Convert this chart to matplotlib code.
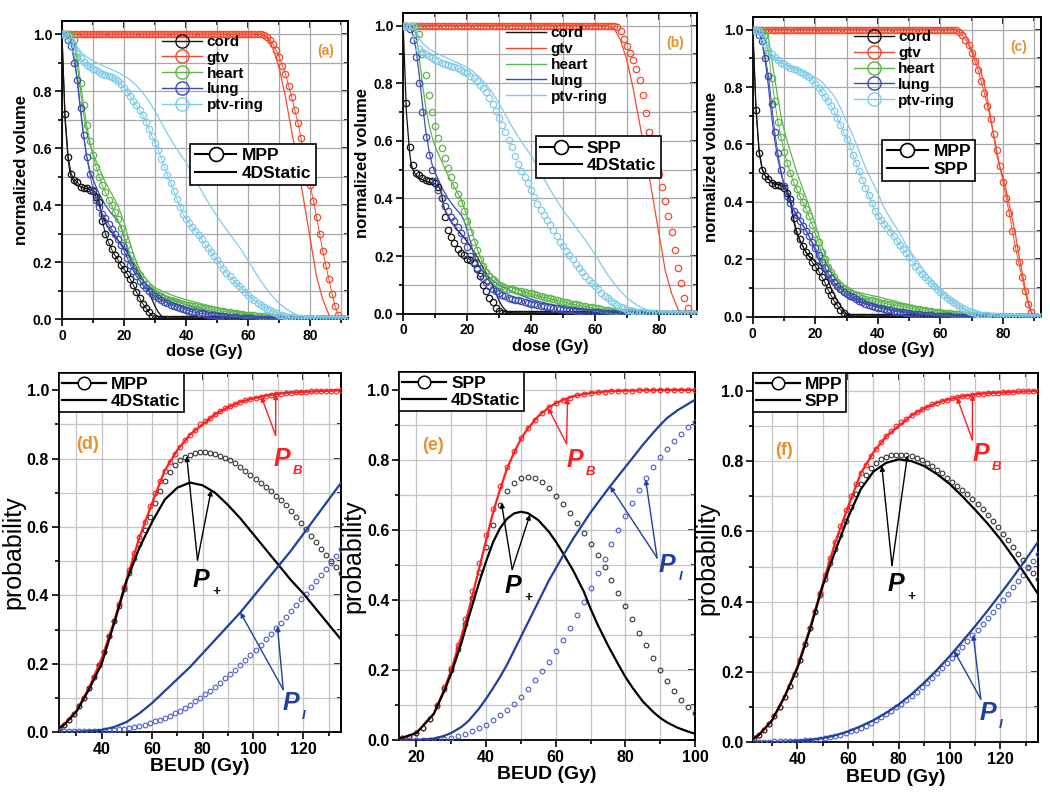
import numpy as np
import matplotlib
matplotlib.use("Agg")
import matplotlib.pyplot as plt
from matplotlib.lines import Line2D
from matplotlib.ticker import MultipleLocator

plt.rcParams["font.family"] = ["Liberation Sans", "DejaVu Sans"]
plt.rcParams["font.weight"] = "bold"
plt.rcParams["axes.labelweight"] = "bold"
plt.rcParams["axes.linewidth"] = 1.3

# ---------------- top row: dose-volume histograms ----------------
DOSE = np.arange(0, 93)          # 1 Gy grid for the marker series
STRUCTS = ["cord", "gtv", "heart", "lung", "ptv-ring"]

MPP_CORD = [1.0, 0.72, 0.57, 0.51, 0.49, 0.48, 0.465, 0.46, 0.46, 0.455, 0.45, 0.43, 0.41,
            0.345, 0.30, 0.27, 0.245, 0.225, 0.21, 0.19, 0.175, 0.16, 0.14, 0.12, 0.095,
            0.075, 0.055, 0.04, 0.025, 0.012, 0.004] + [0.0] * 62
MPP_GTV = [1.0] * 65 + [0.998, 0.99, 0.98, 0.965, 0.945, 0.92, 0.89, 0.86, 0.82, 0.78, 0.735,
                        0.69, 0.635, 0.58, 0.525, 0.47, 0.415, 0.36, 0.30, 0.24, 0.19, 0.14,
                        0.09, 0.045, 0.015, 0.0, 0.0, 0.0]
MPP_HEART = [1.0, 1.0, 1.0, 1.0, 0.98, 0.92, 0.83, 0.75, 0.68, 0.625, 0.575, 0.535, 0.5, 0.47,
             0.445, 0.42, 0.4, 0.375, 0.35, 0.32, 0.29, 0.26, 0.225, 0.2, 0.175, 0.155, 0.138,
             0.122, 0.11, 0.1, 0.092, 0.085, 0.08, 0.075, 0.071, 0.067, 0.063, 0.06, 0.057,
             0.054, 0.051, 0.049, 0.047, 0.045, 0.043, 0.041, 0.039, 0.037, 0.035, 0.033,
             0.031, 0.029, 0.027, 0.026, 0.024, 0.022, 0.021, 0.019, 0.018, 0.016, 0.015,
             0.014, 0.013, 0.012, 0.011, 0.01, 0.009, 0.008, 0.007, 0.006, 0.006, 0.005,
             0.004, 0.004, 0.003, 0.003, 0.002, 0.002, 0.001, 0.001, 0.001] + [0.0] * 12
MPP_LUNG = [1.0, 1.0, 0.98, 0.96, 0.9, 0.84, 0.74, 0.645, 0.57, 0.51, 0.455, 0.42, 0.395, 0.37,
            0.355, 0.335, 0.315, 0.3, 0.28, 0.26, 0.24, 0.215, 0.19, 0.17, 0.15, 0.135, 0.12,
            0.108, 0.098, 0.088, 0.08, 0.074, 0.068, 0.062, 0.056, 0.051, 0.046, 0.042, 0.038,
            0.035, 0.032, 0.029, 0.026, 0.024, 0.022, 0.02, 0.018, 0.016, 0.015, 0.013, 0.012,
            0.011, 0.01, 0.009, 0.008, 0.007, 0.006, 0.005, 0.004, 0.004, 0.003, 0.003, 0.002,
            0.002, 0.001, 0.001] + [0.0] * 27
MPP_PTV = [1.0, 1.0, 0.995, 0.975, 0.95, 0.93, 0.915, 0.903, 0.893, 0.885, 0.879, 0.873, 0.867,
           0.862, 0.858, 0.854, 0.849, 0.843, 0.836, 0.826, 0.812, 0.798, 0.783, 0.767, 0.75,
           0.735, 0.716, 0.692, 0.668, 0.643, 0.619, 0.593, 0.563, 0.535, 0.507, 0.478, 0.45,
           0.423, 0.395, 0.37, 0.35, 0.337, 0.323, 0.309, 0.294, 0.28, 0.265, 0.25, 0.236,
           0.221, 0.207, 0.192, 0.177, 0.162, 0.15, 0.138, 0.128, 0.118, 0.107, 0.096, 0.085,
           0.075, 0.066, 0.058, 0.051, 0.044, 0.037, 0.031, 0.026, 0.021, 0.016, 0.013, 0.01,
           0.008, 0.006, 0.005, 0.004, 0.003, 0.002, 0.001, 0.001] + [0.0] * 12

SPP_CORD = [1.0, 0.73, 0.58, 0.515, 0.49, 0.48, 0.47, 0.465, 0.46, 0.46, 0.455, 0.44, 0.40,
            0.335, 0.29, 0.265, 0.245, 0.225, 0.21, 0.205, 0.19, 0.185, 0.175, 0.155, 0.13,
            0.10, 0.08, 0.055, 0.04, 0.02, 0.01, 0.003] + [0.0] * 61
SPP_GTV = [1.0] * 66 + [1.0, 0.995, 0.98, 0.955, 0.93, 0.905, 0.88, 0.85, 0.81, 0.76, 0.695,
                        0.63, 0.565, 0.52, 0.485, 0.44, 0.39, 0.34, 0.285, 0.22, 0.16, 0.105,
                        0.055, 0.018, 0.0, 0.0, 0.0]
SPP_HEART = [1.0, 1.0, 1.0, 1.0, 1.0, 0.97, 0.9, 0.83, 0.76, 0.7, 0.65, 0.61, 0.575, 0.54,
             0.505, 0.475, 0.445, 0.415, 0.385, 0.355, 0.32, 0.285, 0.25, 0.22, 0.19, 0.165,
             0.145, 0.13, 0.12, 0.11, 0.1, 0.095, 0.09, 0.087, 0.084, 0.082, 0.079, 0.077,
             0.074, 0.072, 0.07, 0.067, 0.064, 0.061, 0.059, 0.056, 0.053, 0.05, 0.047, 0.045,
             0.042, 0.04, 0.037, 0.035, 0.032, 0.03, 0.028, 0.026, 0.024, 0.022, 0.02, 0.018,
             0.016, 0.014, 0.012, 0.01, 0.009, 0.008, 0.007, 0.006, 0.005, 0.004, 0.004,
             0.003, 0.003, 0.002, 0.002, 0.001, 0.001, 0.001] + [0.0] * 13
SPP_LUNG = [1.0, 1.0, 0.99, 0.95, 0.89, 0.8, 0.7, 0.615, 0.55, 0.5, 0.46, 0.43, 0.4, 0.375,
            0.355, 0.337, 0.32, 0.3, 0.28, 0.255, 0.23, 0.2, 0.178, 0.158, 0.14, 0.125, 0.11,
            0.097, 0.086, 0.077, 0.07, 0.065, 0.06, 0.056, 0.052, 0.049, 0.046, 0.043, 0.04,
            0.037, 0.035, 0.032, 0.03, 0.028, 0.026, 0.024, 0.022, 0.02, 0.018, 0.016, 0.015,
            0.014, 0.012, 0.011, 0.01, 0.009, 0.008, 0.007, 0.006, 0.005, 0.004, 0.004, 0.003,
            0.002, 0.002, 0.001, 0.001] + [0.0] * 26
SPP_PTV = [1.0, 1.0, 1.0, 1.0, 0.96, 0.92, 0.908, 0.9, 0.893, 0.887, 0.88, 0.876, 0.872, 0.868,
           0.864, 0.86, 0.857, 0.852, 0.846, 0.84, 0.834, 0.826, 0.818, 0.808, 0.795, 0.782,
           0.768, 0.75, 0.728, 0.703, 0.678, 0.655, 0.63, 0.604, 0.577, 0.548, 0.52, 0.497,
           0.474, 0.452, 0.43, 0.405, 0.38, 0.36, 0.342, 0.325, 0.308, 0.29, 0.27, 0.25, 0.235,
           0.218, 0.203, 0.188, 0.172, 0.157, 0.144, 0.13, 0.118, 0.106, 0.095, 0.084, 0.073,
           0.062, 0.053, 0.044, 0.036, 0.029, 0.023, 0.018, 0.014, 0.011, 0.009, 0.007, 0.005,
           0.004, 0.003, 0.002, 0.001, 0.001] + [0.0] * 13

# 4DStatic plan, drawn as plain lines only
ST_CORD_D = [0, 0.5, 1, 2, 2.5, 3, 4, 5, 7, 9, 10, 11, 12, 12.5, 13, 14, 15, 17, 19, 20, 21,
             22, 23, 24, 25, 26, 27, 28, 29, 30, 31, 32, 33, 34, 35, 92]
ST_CORD = [1.0, 0.85, 0.7, 0.56, 0.52, 0.5, 0.48, 0.47, 0.46, 0.455, 0.45, 0.445, 0.42, 0.38,
           0.36, 0.34, 0.32, 0.29, 0.265, 0.25, 0.235, 0.215, 0.2, 0.18, 0.16, 0.14, 0.12,
           0.1, 0.07, 0.045, 0.025, 0.012, 0.006, 0.002, 0.0, 0.0]
ST_GTV_D = [0, 64, 66, 68, 70, 72, 74, 76, 78, 80, 82, 84, 86, 87, 92]
ST_GTV = [1.0, 1.0, 0.99, 0.95, 0.88, 0.78, 0.66, 0.54, 0.41, 0.28, 0.15, 0.07, 0.015, 0.0, 0.0]
ST_HEART_D = [0, 3, 4, 5, 6, 7, 8, 9, 10, 12, 14, 16, 18, 19, 20, 21, 22, 23, 24, 25, 26, 28,
              30, 33, 36, 40, 45, 50, 55, 60, 65, 70, 75, 80, 92]
ST_HEART = [1.0, 1.0, 0.97, 0.89, 0.8, 0.72, 0.66, 0.615, 0.58, 0.53, 0.48, 0.44, 0.4, 0.37,
            0.34, 0.3, 0.265, 0.23, 0.2, 0.175, 0.155, 0.13, 0.11, 0.095, 0.082, 0.068, 0.054,
            0.04, 0.028, 0.018, 0.011, 0.006, 0.003, 0.001, 0.0]
ST_LUNG_D = [0, 2, 3, 4, 5, 6, 7, 8, 9, 10, 12, 14, 16, 18, 19, 20, 21, 22, 23, 24, 26, 28, 30,
             35, 40, 45, 50, 55, 60, 65, 70, 75, 92]
ST_LUNG = [1.0, 1.0, 0.97, 0.92, 0.83, 0.73, 0.64, 0.57, 0.52, 0.49, 0.44, 0.4, 0.37, 0.345,
           0.325, 0.29, 0.25, 0.21, 0.18, 0.16, 0.135, 0.115, 0.1, 0.072, 0.05, 0.035, 0.024,
           0.015, 0.009, 0.005, 0.002, 0.001, 0.0]
ST_PTV_D = [0, 3, 4, 5, 6, 8, 10, 12, 14, 16, 18, 20, 22, 24, 26, 28, 30, 32, 34, 36, 38, 40,
            42, 44, 46, 48, 50, 52, 54, 56, 58, 60, 62, 64, 66, 68, 70, 72, 74, 76, 78, 80, 82, 92]
ST_PTV = [1.0, 1.0, 0.98, 0.955, 0.94, 0.92, 0.907, 0.896, 0.886, 0.876, 0.866, 0.855, 0.84,
          0.82, 0.795, 0.765, 0.73, 0.69, 0.65, 0.615, 0.58, 0.55, 0.51, 0.47, 0.43, 0.395,
          0.36, 0.33, 0.3, 0.27, 0.24, 0.205, 0.17, 0.135, 0.105, 0.078, 0.055, 0.038, 0.024,
          0.014, 0.007, 0.003, 0.0, 0.0]

# ---------------- bottom row: probabilities vs BEUD ----------------
BEUD_MPP = np.arange(23, 136, 2)
MPP_PB = [0.012, 0.022, 0.035, 0.052, 0.075, 0.1, 0.13, 0.16, 0.195,
          0.235, 0.28, 0.325, 0.375, 0.425, 0.475, 0.525, 0.57, 0.615, 0.66,
          0.7, 0.735, 0.765, 0.79, 0.815, 0.835, 0.855, 0.87, 0.885, 0.9,
          0.91, 0.92, 0.93, 0.94, 0.948, 0.955, 0.961, 0.966, 0.971, 0.975,
          0.978, 0.981, 0.984, 0.986, 0.988, 0.99, 0.991, 0.993, 0.994, 0.995,
          0.996, 0.997, 0.997, 0.998, 0.998, 0.999, 0.999, 1.0]
MPP_PP = [0.012, 0.022, 0.035, 0.052, 0.075, 0.1, 0.13, 0.16, 0.195,
          0.235, 0.28, 0.325, 0.37, 0.42, 0.465, 0.51, 0.55, 0.59, 0.63,
          0.67, 0.705, 0.735, 0.76, 0.78, 0.795, 0.805, 0.812, 0.816, 0.818,
          0.818, 0.817, 0.814, 0.809, 0.803, 0.795, 0.786, 0.776, 0.765, 0.753,
          0.741, 0.729, 0.717, 0.705, 0.692, 0.678, 0.663, 0.647, 0.63, 0.612,
          0.594, 0.575, 0.556, 0.537, 0.518, 0.5, 0.482, 0.465]
MPP_PI = [0.002, 0.002, 0.002, 0.002, 0.003, 0.003, 0.003, 0.004, 0.004,
          0.005, 0.006, 0.007, 0.008, 0.01, 0.012, 0.015, 0.018, 0.022, 0.026,
          0.031, 0.036, 0.042, 0.048, 0.055, 0.063, 0.071, 0.08, 0.09, 0.1,
          0.11, 0.121, 0.132, 0.144, 0.157, 0.17, 0.183, 0.197, 0.211, 0.226,
          0.241, 0.256, 0.272, 0.288, 0.304, 0.32, 0.337, 0.354, 0.371, 0.388,
          0.405, 0.423, 0.441, 0.459, 0.477, 0.496, 0.515, 0.535]

BEUD_D = [23, 25, 30, 35, 40, 45, 50, 55, 60, 65, 70, 75, 80, 85, 90, 95, 100, 105, 110, 115,
          120, 125, 130, 135]
ST_D_PB = [0.012, 0.022, 0.062, 0.13, 0.215, 0.325, 0.45, 0.57, 0.67, 0.765, 0.825, 0.87, 0.9,
           0.93, 0.95, 0.966, 0.976, 0.984, 0.99, 0.993, 0.995, 0.997, 0.998, 1.0]
ST_D_PP = [0.012, 0.02, 0.06, 0.125, 0.2, 0.32, 0.445, 0.54, 0.615, 0.68, 0.715, 0.73, 0.722,
           0.7, 0.665, 0.625, 0.58, 0.535, 0.49, 0.445, 0.405, 0.36, 0.315, 0.27]
ST_D_PI = [0.0, 0.0, 0.001, 0.003, 0.006, 0.015, 0.03, 0.055, 0.085, 0.12, 0.155, 0.19, 0.23,
           0.27, 0.31, 0.35, 0.395, 0.44, 0.485, 0.53, 0.58, 0.63, 0.68, 0.73]

BEUD_SPP_E = np.arange(16, 101, 2)
SPP_E_PB = [0.005, 0.01, 0.02, 0.035, 0.06, 0.1, 0.15, 0.205, 0.27, 0.345,
            0.425, 0.505, 0.585, 0.66, 0.725, 0.78, 0.825, 0.862, 0.892, 0.915,
            0.935, 0.95, 0.962, 0.971, 0.978, 0.984, 0.988, 0.991, 0.993, 0.995,
            0.996, 0.997, 0.998, 0.998, 0.999, 0.999, 0.999, 1.0, 1.0, 1.0,
            1.0, 1.0, 1.0]
SPP_E_PP = [0.005, 0.01, 0.02, 0.035, 0.06, 0.098, 0.145, 0.2, 0.26, 0.33,
            0.405, 0.48, 0.55, 0.615, 0.67, 0.71, 0.735, 0.748, 0.752, 0.748,
            0.737, 0.72, 0.698, 0.674, 0.648, 0.62, 0.59, 0.56, 0.528, 0.494,
            0.458, 0.42, 0.383, 0.345, 0.307, 0.27, 0.234, 0.2, 0.168, 0.14,
            0.115, 0.095, 0.078]
SPP_E_PI = [0.0, 0.0, 0.0, 0.0, 0.001, 0.002, 0.004, 0.007, 0.012, 0.018,
            0.025, 0.034, 0.044, 0.056, 0.07, 0.086, 0.104, 0.124, 0.146, 0.17,
            0.196, 0.224, 0.254, 0.286, 0.32, 0.356, 0.394, 0.434, 0.476, 0.518,
            0.56, 0.6, 0.64, 0.678, 0.714, 0.748, 0.779, 0.807, 0.832, 0.855,
            0.875, 0.893, 0.909]

BEUD_E = [15, 20, 25, 28, 30, 33, 35, 38, 40, 42, 44, 46, 48, 50, 52, 55, 58, 60, 62, 65, 68,
          70, 72, 75, 78, 80, 82, 85, 88, 90, 92, 95, 98, 100]
ST_E_PB = [0.003, 0.02, 0.075, 0.145, 0.2, 0.3, 0.37, 0.49, 0.57, 0.65, 0.715, 0.775, 0.82,
           0.86, 0.89, 0.925, 0.95, 0.962, 0.971, 0.982, 0.988, 0.991, 0.993, 0.996, 0.997,
           0.998, 0.998, 0.999, 0.999, 1.0, 1.0, 1.0, 1.0, 1.0]
ST_E_PP = [0.003, 0.02, 0.075, 0.14, 0.19, 0.28, 0.35, 0.45, 0.51, 0.565, 0.605, 0.632, 0.647,
           0.652, 0.648, 0.628, 0.595, 0.567, 0.535, 0.484, 0.425, 0.375, 0.33, 0.27, 0.215,
           0.18, 0.15, 0.11, 0.08, 0.063, 0.05, 0.035, 0.024, 0.018]
ST_E_PI = [0.0, 0.0, 0.004, 0.012, 0.02, 0.038, 0.055, 0.09, 0.118, 0.148, 0.18, 0.215, 0.255,
           0.295, 0.335, 0.395, 0.455, 0.49, 0.525, 0.575, 0.62, 0.65, 0.677, 0.717, 0.755,
           0.78, 0.805, 0.843, 0.878, 0.9, 0.92, 0.942, 0.96, 0.972]

SPP_F_PB = [0.012, 0.022, 0.062, 0.13, 0.215, 0.325, 0.45, 0.57, 0.67, 0.765, 0.825, 0.87,
            0.9, 0.93, 0.95, 0.966, 0.976, 0.984, 0.99, 0.993, 0.995, 0.997, 0.998, 1.0]
SPP_F_PP = [0.012, 0.022, 0.062, 0.13, 0.21, 0.32, 0.445, 0.545, 0.64, 0.72, 0.77, 0.795,
            0.805, 0.8, 0.786, 0.763, 0.735, 0.7, 0.662, 0.622, 0.578, 0.528, 0.476, 0.42]
SPP_F_PI = [0.0, 0.0, 0.001, 0.002, 0.004, 0.007, 0.012, 0.02, 0.031, 0.046, 0.063, 0.084,
            0.108, 0.137, 0.17, 0.206, 0.245, 0.287, 0.33, 0.375, 0.422, 0.47, 0.52, 0.572]

# ---------------- styling ----------------
DVH_COL = {"cord": "#111111", "gtv": "#f24a2c", "heart": "#5db64a",
           "lung": "#3c4cb4", "ptv-ring": "#80cce8"}
RED, BLACK, BLUE, BLUE_MK = "#ff1f1f", "#000000", "#20409e", "#4a5ccc"
ORANGE = "#e8902a"
GRID = "#a8a8a8"


def frame(ax, xmaj, xmin, ymaj, ymin, lsize):
    ax.xaxis.set_major_locator(MultipleLocator(xmaj))
    ax.xaxis.set_minor_locator(MultipleLocator(xmin))
    ax.yaxis.set_major_locator(MultipleLocator(ymaj))
    ax.yaxis.set_minor_locator(MultipleLocator(ymin))
    ax.yaxis.set_major_formatter(lambda v, p: f"{v:.1f}")
    ax.grid(which="both", color=GRID, lw=0.9)
    ax.set_axisbelow(True)
    ax.tick_params(which="both", direction="out", width=1.2, labelsize=lsize, pad=2)
    ax.tick_params(which="major", length=5)
    ax.tick_params(which="minor", length=3)
    top = ax.secondary_xaxis("top")
    right = ax.secondary_yaxis("right")
    top.xaxis.set_major_locator(MultipleLocator(xmaj))
    top.xaxis.set_minor_locator(MultipleLocator(xmin))
    right.yaxis.set_major_locator(MultipleLocator(ymaj))
    right.yaxis.set_minor_locator(MultipleLocator(ymin))
    top.tick_params(which="both", direction="in", width=1.2, labeltop=False)
    right.tick_params(which="both", direction="in", width=1.2, labelright=False)
    for s in (top, right):
        s.tick_params(which="major", length=5)
        s.tick_params(which="minor", length=3)


def dvh_panel(ax, mk, mk_joined, lines, names, tag):
    for s in STRUCTS:
        ax.plot(lines[s][0], lines[s][1], color=DVH_COL[s], lw=0.9, zorder=3)
    for s in STRUCTS:
        ax.plot(DOSE, mk[s], color=DVH_COL[s], lw=0.7 if mk_joined else 0,
                marker="o", ms=4.6, mfc="none", mew=0.9, zorder=4)
    ax.set_xlim(0, 92)
    ax.set_ylim(0, 1.045)
    frame(ax, 20, 10, 0.2, 0.1, 10)
    ax.set_xlabel("dose (Gy)", fontsize=12, labelpad=1)
    ax.set_ylabel("normalized volume", fontsize=12, labelpad=3)
    ax.text(0.925, 0.9, tag, transform=ax.transAxes, color=ORANGE, fontsize=10,
            ha="center", va="center")
    handles = [Line2D([], [], color=DVH_COL[s], lw=1,
                      marker="o" if mk_joined else None, ms=9.5, mfc="none", mew=1)
               for s in STRUCTS]
    leg1 = ax.legend(handles, STRUCTS, loc="upper left", bbox_to_anchor=(0.33, 0.975),
                     frameon=False, fontsize=11, handlelength=2.6, handletextpad=0.3,
                     labelspacing=0.12, borderaxespad=0)
    ax.add_artist(leg1)
    plan = [Line2D([], [], color="k", lw=1.5, marker="o", ms=10, mfc="white", mew=1.2),
            Line2D([], [], color="k", lw=1.5)]
    leg2 = ax.legend(plan, names, loc="upper left", bbox_to_anchor=(0.45, 0.59),
                     fontsize=12.5, handlelength=2.4, handletextpad=0.3, labelspacing=0.15,
                     borderpad=0.25, borderaxespad=0, fancybox=False)
    leg2.get_frame().set_edgecolor("k")
    leg2.get_frame().set_linewidth(1.2)
    leg2.get_frame().set_alpha(1)


def label_p(ax, xy, sub, color, origin, tips):
    ax.text(xy[0], xy[1], "P", fontsize=18, style="italic", color=color,
            ha="center", va="center", zorder=6)
    ax.annotate(sub, xy=xy, xytext=(8, -9), textcoords="offset points", fontsize=9.5,
                style="italic", color=color, ha="left", va="center", zorder=6)
    for t in tips:
        ax.annotate("", xy=t, xytext=origin, zorder=6,
                    arrowprops=dict(arrowstyle="-|>", color=color, lw=1.0,
                                    mutation_scale=7, shrinkA=0, shrinkB=0))


def prob_panel(ax, xm, mk, xl, ln, names, xlim, xmaj, tag, tag_xy, notes):
    pb, pp, pi = mk
    lb, lp, li = ln
    ax.plot(xm, pb, ls="none", marker="o", ms=3.4, mfc="none", mew=0.8, color=RED, zorder=3)
    ax.plot(xm, pp, ls="none", marker="o", ms=3.4, mfc="none", mew=0.8, color="#333333",
            zorder=3)
    ax.plot(xm, pi, ls="none", marker="o", ms=3.4, mfc="none", mew=0.8, color=BLUE_MK,
            zorder=3)
    ax.plot(xl, lb, color=RED, lw=1.6, zorder=4)
    ax.plot(xl, lp, color=BLACK, lw=1.6, zorder=4)
    ax.plot(xl, li, color=BLUE, lw=1.6, zorder=4)
    ax.set_xlim(*xlim)
    ax.set_ylim(0, 1.05)
    frame(ax, xmaj, 10, 0.2, 0.1, 11.5)
    ax.grid(which="both", color="#c4c4c4", lw=0.9)
    ax.set_xlabel("BEUD (Gy)", fontsize=14, labelpad=1)
    ax.set_ylabel("probability", fontsize=18, fontweight="normal", labelpad=1)
    ax.text(tag_xy[0], tag_xy[1], tag, color=ORANGE, fontsize=13, ha="center", va="center")
    plan = [Line2D([], [], color="k", lw=1.6, marker="o", ms=9, mfc="white", mew=1.1),
            Line2D([], [], color="k", lw=1.6)]
    leg = ax.legend(plan, names, loc="upper left", bbox_to_anchor=(0, 1), fontsize=12.5,
                    handlelength=2.5, handletextpad=0.3, labelspacing=0.1, borderpad=0.2,
                    borderaxespad=0, fancybox=False)
    leg.get_frame().set_edgecolor("k")
    leg.get_frame().set_linewidth(1.2)
    leg.get_frame().set_alpha(1)
    for sub, color, xy, origin, tips in notes:
        label_p(ax, xy, sub, color, origin, tips)


fig = plt.figure(figsize=(10.5, 7.94), dpi=100)
ax_a = fig.add_axes([0.059, 0.598, 0.272, 0.375])
ax_b = fig.add_axes([0.384, 0.605, 0.280, 0.379])
ax_c = fig.add_axes([0.717, 0.601, 0.274, 0.378])
ax_d = fig.add_axes([0.056, 0.078, 0.269, 0.452])
ax_e = fig.add_axes([0.380, 0.068, 0.282, 0.463])
ax_f = fig.add_axes([0.717, 0.065, 0.272, 0.465])

MPP = dict(zip(STRUCTS, [MPP_CORD, MPP_GTV, MPP_HEART, MPP_LUNG, MPP_PTV]))
SPP = dict(zip(STRUCTS, [SPP_CORD, SPP_GTV, SPP_HEART, SPP_LUNG, SPP_PTV]))
STATIC = {"cord": (ST_CORD_D, ST_CORD), "gtv": (ST_GTV_D, ST_GTV),
          "heart": (ST_HEART_D, ST_HEART), "lung": (ST_LUNG_D, ST_LUNG),
          "ptv-ring": (ST_PTV_D, ST_PTV)}
SPP_LINES = {s: (DOSE, SPP[s]) for s in STRUCTS}

dvh_panel(ax_a, MPP, True, STATIC, ["MPP", "4DStatic"], "(a)")
dvh_panel(ax_b, SPP, False, STATIC, ["SPP", "4DStatic"], "(b)")
dvh_panel(ax_c, MPP, True, SPP_LINES, ["MPP", "SPP"], "(c)")


def on(x, xs, ys):
    return (x, float(np.interp(x, xs, ys)))


notes_d = [
    ("B", RED, (111.5, 0.80), (109, 0.868), [on(103.3, BEUD_MPP, MPP_PB), on(109, BEUD_D, ST_D_PB)]),
    ("+", BLACK, (79.5, 0.445), (78, 0.503), [on(73.7, BEUD_MPP, MPP_PP), on(83.4, BEUD_D, ST_D_PP)]),
    ("I", BLUE, (115, 0.085), (112, 0.124), [on(95, BEUD_D, ST_D_PI), on(109.7, BEUD_MPP, MPP_PI)]),
]
notes_e = [
    ("B", RED, (65.5, 0.80), (63.1, 0.846), [on(57.8, BEUD_SPP_E, SPP_E_PB), on(63.4, BEUD_E, ST_E_PB)]),
    ("+", BLACK, (47.8, 0.44), (47.5, 0.487), [on(44.4, BEUD_SPP_E, SPP_E_PP), on(52.6, BEUD_E, ST_E_PP)]),
    ("I", BLUE, (92, 0.50), (89.1, 0.52), [on(75.6, BEUD_E, ST_E_PI), on(85.8, BEUD_SPP_E, SPP_E_PI)]),
]
notes_f = [
    ("B", RED, (112.3, 0.82), (109, 0.86), [on(102.9, BEUD_MPP, MPP_PB), on(109, BEUD_D, SPP_F_PB)]),
    ("+", BLACK, (79, 0.45), (77.3, 0.503), [on(73.3, BEUD_D, SPP_F_PP), on(83.4, BEUD_MPP, MPP_PP)]),
    ("I", BLUE, (115, 0.085), (112.3, 0.123), [on(101.8, BEUD_D, SPP_F_PI), on(109.3, BEUD_MPP, MPP_PI)]),
]

prob_panel(ax_d, BEUD_MPP, (MPP_PB, MPP_PP, MPP_PI), BEUD_D, (ST_D_PB, ST_D_PP, ST_D_PI),
           ["MPP", "4DStatic"], (23, 135), 20, "(d)", (34.5, 0.84), notes_d)
prob_panel(ax_e, BEUD_SPP_E, (SPP_E_PB, SPP_E_PP, SPP_E_PI), BEUD_E, (ST_E_PB, ST_E_PP, ST_E_PI),
           ["SPP", "4DStatic"], (15, 100), 20, "(e)", (24.7, 0.84), notes_e)
prob_panel(ax_f, BEUD_MPP, (MPP_PB, MPP_PP, MPP_PI), BEUD_D, (SPP_F_PB, SPP_F_PP, SPP_F_PI),
           ["MPP", "SPP"], (22.5, 135), 20, "(f)", (34.9, 0.83), notes_f)

# tick labels are made lazily; force them bold once they exist
fig.canvas.draw()
for ax in (ax_a, ax_b, ax_c, ax_d, ax_e, ax_f):
    for lbl in ax.get_xticklabels() + ax.get_yticklabels():
        lbl.set_fontweight("bold")

fig.savefig("out.png", dpi=100)
